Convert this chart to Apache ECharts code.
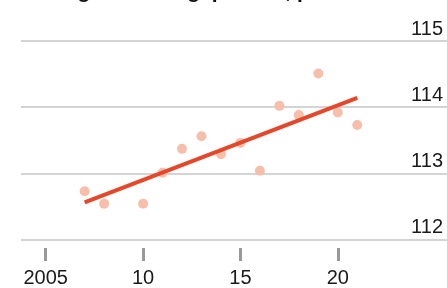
<!DOCTYPE html>
<html>
<head>
<meta charset="utf-8">
<script src="https://cdn.jsdelivr.net/npm/echarts@6/dist/echarts.min.js"></script>
<style>
    html, body { margin: 0; padding: 0; background: #fff; }
    #main { width: 447px; height: 288px; }
</style>
</head>
<body>
<div id="main"></div>
<script>
    // 数据
    var years = [2007, 2008, 2010, 2011, 2012, 2013, 2014, 2015, 2016, 2017, 2018, 2019, 2020, 2021];
    var values = [112.73, 112.54, 112.54, 113.01, 113.37, 113.56, 113.29, 113.46, 113.04, 114.02, 113.88, 114.51, 113.92, 113.73];
    var trendYears = [2007, 2021];
    var trendValues = [112.56, 114.14];
    var xTicks = [2005, 2010, 2015, 2020];
    var titleText = 'Average income gap index, per cent';

    var labelFont = '"Liberation Sans", sans-serif';

    var chart = echarts.init(document.getElementById('main'));
    var option = {
        animation: false,
        graphic: [{
            type: 'text',
            x: 20,
            y: 3,   // 标题只露出下半截
            style: {
                text: titleText,
                font: 'bold 21px "Liberation Sans", sans-serif',
                verticalAlign: 'bottom',
                fill: '#111'
            }
        }],
        grid: {
            left: 21,
            right: 0,
            top: 41,
            bottom: 44.5
        },
        xAxis: {
            type: 'value',
            min: 2003.73,
            max: 2025.61,
            offset: 8.5,
            splitLine: { show: false },
            axisLine: { show: false },
            axisTick: {
                show: true,
                customValues: xTicks,
                length: 13,
                lineStyle: { color: '#999', width: 3 }
            },
            axisLabel: {
                customValues: xTicks,
                margin: 20,
                fontSize: 20,
                fontFamily: labelFont,
                color: '#1a1a1a',
                formatter: function (v) {
                    return v === 2005 ? '2005' : String(v).slice(2);
                }
            }
        },
        yAxis: {
            type: 'value',
            position: 'right',
            min: 112,
            max: 115,
            interval: 1,
            axisLine: { show: false },
            axisTick: { show: false },
            splitLine: { lineStyle: { color: '#d4d4d4', width: 2 } },
            axisLabel: {
                inside: true,
                margin: 4,
                verticalAlign: 'bottom',
                padding: [0, 0, 2, 0],
                fontSize: 20,
                fontFamily: labelFont,
                color: '#1a1a1a'
            }
        },
        series: [{
            type: 'scatter',
            data: years.map(function (y, i) { return [y, values[i]]; }),
            symbolSize: 10,
            itemStyle: { color: '#f7bfaa', opacity: 1 },
            z: 2
        }, {
            type: 'line',
            data: trendYears.map(function (y, i) { return [y, trendValues[i]]; }),
            symbol: 'none',
            lineStyle: { color: '#e4472a', width: 4 },
            z: 3
        }]
    };
    chart.setOption(option);
</script>
</body>
</html>
